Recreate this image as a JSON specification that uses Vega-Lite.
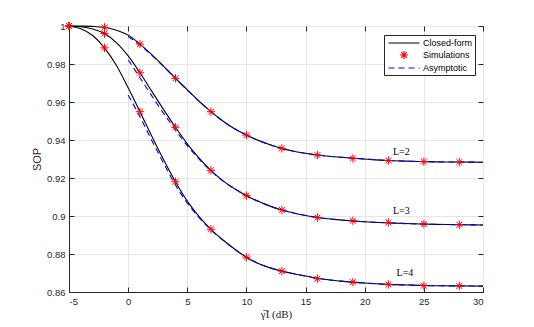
{
  "$schema": "https://vega.github.io/schema/vega-lite/v6.json",
  "width": 414,
  "height": 266,
  "autosize": {"type": "none"},
  "padding": {"left": 69, "top": 26, "right": 51, "bottom": 35},
  "background": "white",
  "datasets": {
    "cf": [
      {"x": -5, "y": 1.0, "L": 2}, {"x": -4, "y": 0.99995, "L": 2}, {"x": -3, "y": 0.9998, "L": 2}, {"x": -2, "y": 0.9993, "L": 2}, {"x": -1, "y": 0.9978, "L": 2}, {"x": 0, "y": 0.9952, "L": 2}, {"x": 1, "y": 0.9905, "L": 2}, {"x": 2, "y": 0.9849, "L": 2}, {"x": 3, "y": 0.9788, "L": 2}, {"x": 4, "y": 0.9725, "L": 2}, {"x": 5, "y": 0.9664, "L": 2}, {"x": 6, "y": 0.9604, "L": 2}, {"x": 7, "y": 0.9549, "L": 2}, {"x": 8, "y": 0.95, "L": 2}, {"x": 9, "y": 0.9459, "L": 2}, {"x": 10, "y": 0.9426, "L": 2}, {"x": 11, "y": 0.9398, "L": 2}, {"x": 12, "y": 0.9375, "L": 2}, {"x": 13, "y": 0.9356, "L": 2}, {"x": 14, "y": 0.9341, "L": 2}, {"x": 15, "y": 0.933, "L": 2}, {"x": 16, "y": 0.9321, "L": 2}, {"x": 18, "y": 0.9309, "L": 2}, {"x": 20, "y": 0.93, "L": 2}, {"x": 22, "y": 0.9292, "L": 2}, {"x": 24, "y": 0.9288, "L": 2}, {"x": 26, "y": 0.9285, "L": 2}, {"x": 28, "y": 0.9284, "L": 2}, {"x": 30, "y": 0.9283, "L": 2},
      {"x": -5, "y": 1.0, "L": 3}, {"x": -4, "y": 0.9996, "L": 3}, {"x": -3, "y": 0.9984, "L": 3}, {"x": -2, "y": 0.996, "L": 3}, {"x": -1, "y": 0.9913, "L": 3}, {"x": 0, "y": 0.9843, "L": 3}, {"x": 1, "y": 0.9754, "L": 3}, {"x": 2, "y": 0.9656, "L": 3}, {"x": 3, "y": 0.956, "L": 3}, {"x": 4, "y": 0.9467, "L": 3}, {"x": 5, "y": 0.938, "L": 3}, {"x": 6, "y": 0.9305, "L": 3}, {"x": 7, "y": 0.924, "L": 3}, {"x": 8, "y": 0.9186, "L": 3}, {"x": 9, "y": 0.9143, "L": 3}, {"x": 10, "y": 0.9107, "L": 3}, {"x": 11, "y": 0.9077, "L": 3}, {"x": 12, "y": 0.9052, "L": 3}, {"x": 13, "y": 0.9032, "L": 3}, {"x": 14, "y": 0.9016, "L": 3}, {"x": 15, "y": 0.9003, "L": 3}, {"x": 16, "y": 0.8992, "L": 3}, {"x": 18, "y": 0.8979, "L": 3}, {"x": 20, "y": 0.897, "L": 3}, {"x": 22, "y": 0.8964, "L": 3}, {"x": 24, "y": 0.8959, "L": 3}, {"x": 26, "y": 0.8956, "L": 3}, {"x": 28, "y": 0.8954, "L": 3}, {"x": 30, "y": 0.8953, "L": 3},
      {"x": -5, "y": 1.0, "L": 4}, {"x": -4, "y": 0.9985, "L": 4}, {"x": -3, "y": 0.995, "L": 4}, {"x": -2, "y": 0.9885, "L": 4}, {"x": -1, "y": 0.9793, "L": 4}, {"x": 0, "y": 0.9675, "L": 4}, {"x": 1, "y": 0.9549, "L": 4}, {"x": 2, "y": 0.942, "L": 4}, {"x": 3, "y": 0.9296, "L": 4}, {"x": 4, "y": 0.918, "L": 4}, {"x": 5, "y": 0.9078, "L": 4}, {"x": 6, "y": 0.8997, "L": 4}, {"x": 7, "y": 0.893, "L": 4}, {"x": 8, "y": 0.8875, "L": 4}, {"x": 9, "y": 0.8826, "L": 4}, {"x": 10, "y": 0.8783, "L": 4}, {"x": 11, "y": 0.875, "L": 4}, {"x": 12, "y": 0.8727, "L": 4}, {"x": 13, "y": 0.871, "L": 4}, {"x": 14, "y": 0.8696, "L": 4}, {"x": 15, "y": 0.8684, "L": 4}, {"x": 16, "y": 0.8672, "L": 4}, {"x": 18, "y": 0.8657, "L": 4}, {"x": 20, "y": 0.8647, "L": 4}, {"x": 22, "y": 0.864, "L": 4}, {"x": 24, "y": 0.8636, "L": 4}, {"x": 26, "y": 0.8633, "L": 4}, {"x": 28, "y": 0.8632, "L": 4}, {"x": 30, "y": 0.8631, "L": 4}
    ],
    "asy": [
      {"x": 0, "y": 0.9945, "L": 2}, {"x": 1, "y": 0.99, "L": 2}, {"x": 2, "y": 0.9846, "L": 2}, {"x": 3, "y": 0.9786, "L": 2}, {"x": 4, "y": 0.9724, "L": 2}, {"x": 5, "y": 0.9663, "L": 2}, {"x": 6, "y": 0.9604, "L": 2}, {"x": 7, "y": 0.9549, "L": 2}, {"x": 8, "y": 0.95, "L": 2}, {"x": 9, "y": 0.9459, "L": 2}, {"x": 10, "y": 0.9426, "L": 2}, {"x": 11, "y": 0.9398, "L": 2}, {"x": 12, "y": 0.9375, "L": 2}, {"x": 13, "y": 0.9356, "L": 2}, {"x": 14, "y": 0.9341, "L": 2}, {"x": 15, "y": 0.933, "L": 2}, {"x": 16, "y": 0.9321, "L": 2}, {"x": 18, "y": 0.9309, "L": 2}, {"x": 20, "y": 0.93, "L": 2}, {"x": 22, "y": 0.9292, "L": 2}, {"x": 24, "y": 0.9288, "L": 2}, {"x": 26, "y": 0.9285, "L": 2}, {"x": 28, "y": 0.9284, "L": 2}, {"x": 30, "y": 0.9283, "L": 2},
      {"x": 0, "y": 0.9822, "L": 3}, {"x": 1, "y": 0.9728, "L": 3}, {"x": 2, "y": 0.9632, "L": 3}, {"x": 3, "y": 0.954, "L": 3}, {"x": 4, "y": 0.9453, "L": 3}, {"x": 5, "y": 0.937, "L": 3}, {"x": 6, "y": 0.9299, "L": 3}, {"x": 7, "y": 0.9237, "L": 3}, {"x": 8, "y": 0.9185, "L": 3}, {"x": 9, "y": 0.9143, "L": 3}, {"x": 10, "y": 0.9107, "L": 3}, {"x": 11, "y": 0.9077, "L": 3}, {"x": 12, "y": 0.9052, "L": 3}, {"x": 13, "y": 0.9032, "L": 3}, {"x": 14, "y": 0.9016, "L": 3}, {"x": 15, "y": 0.9003, "L": 3}, {"x": 16, "y": 0.8992, "L": 3}, {"x": 18, "y": 0.8979, "L": 3}, {"x": 20, "y": 0.897, "L": 3}, {"x": 22, "y": 0.8964, "L": 3}, {"x": 24, "y": 0.8959, "L": 3}, {"x": 26, "y": 0.8956, "L": 3}, {"x": 28, "y": 0.8954, "L": 3}, {"x": 30, "y": 0.8953, "L": 3},
      {"x": 0, "y": 0.9637, "L": 4}, {"x": 1, "y": 0.9522, "L": 4}, {"x": 2, "y": 0.9398, "L": 4}, {"x": 3, "y": 0.9278, "L": 4}, {"x": 4, "y": 0.9163, "L": 4}, {"x": 5, "y": 0.9068, "L": 4}, {"x": 6, "y": 0.8991, "L": 4}, {"x": 7, "y": 0.8927, "L": 4}, {"x": 8, "y": 0.8873, "L": 4}, {"x": 9, "y": 0.8825, "L": 4}, {"x": 10, "y": 0.8783, "L": 4}, {"x": 11, "y": 0.875, "L": 4}, {"x": 12, "y": 0.8727, "L": 4}, {"x": 13, "y": 0.871, "L": 4}, {"x": 14, "y": 0.8696, "L": 4}, {"x": 15, "y": 0.8684, "L": 4}, {"x": 16, "y": 0.8672, "L": 4}, {"x": 18, "y": 0.8657, "L": 4}, {"x": 20, "y": 0.8647, "L": 4}, {"x": 22, "y": 0.864, "L": 4}, {"x": 24, "y": 0.8636, "L": 4}, {"x": 26, "y": 0.8633, "L": 4}, {"x": 28, "y": 0.8632, "L": 4}, {"x": 30, "y": 0.8631, "L": 4}
    ],
    "sim": [
      {"x": -5, "y": 1.0, "L": 2}, {"x": -2, "y": 0.9993, "L": 2}, {"x": 1, "y": 0.9905, "L": 2}, {"x": 4, "y": 0.9725, "L": 2}, {"x": 7, "y": 0.9549, "L": 2}, {"x": 10, "y": 0.9426, "L": 2}, {"x": 13, "y": 0.9356, "L": 2}, {"x": 16, "y": 0.9321, "L": 2}, {"x": 19, "y": 0.9303, "L": 2}, {"x": 22, "y": 0.9292, "L": 2}, {"x": 25, "y": 0.9286, "L": 2}, {"x": 28, "y": 0.9284, "L": 2},
      {"x": -5, "y": 1.0, "L": 3}, {"x": -2, "y": 0.996, "L": 3}, {"x": 1, "y": 0.9754, "L": 3}, {"x": 4, "y": 0.9467, "L": 3}, {"x": 7, "y": 0.924, "L": 3}, {"x": 10, "y": 0.9107, "L": 3}, {"x": 13, "y": 0.9032, "L": 3}, {"x": 16, "y": 0.8992, "L": 3}, {"x": 19, "y": 0.8975, "L": 3}, {"x": 22, "y": 0.8966, "L": 3}, {"x": 25, "y": 0.8958, "L": 3}, {"x": 28, "y": 0.8954, "L": 3},
      {"x": -5, "y": 1.0, "L": 4}, {"x": -2, "y": 0.9885, "L": 4}, {"x": 1, "y": 0.9549, "L": 4}, {"x": 4, "y": 0.918, "L": 4}, {"x": 7, "y": 0.893, "L": 4}, {"x": 10, "y": 0.8783, "L": 4}, {"x": 13, "y": 0.871, "L": 4}, {"x": 16, "y": 0.867, "L": 4}, {"x": 19, "y": 0.8652, "L": 4}, {"x": 22, "y": 0.864, "L": 4}, {"x": 25, "y": 0.8633, "L": 4}, {"x": 28, "y": 0.8632, "L": 4}
    ],
    "lbl": [
      {"x": 23.1, "y": 0.9337, "text": "L=2"},
      {"x": 23.1, "y": 0.9026, "text": "L=3"},
      {"x": 23.4, "y": 0.8700, "text": "L=4"}
    ]
  },
  "layer": [
    {
      "data": {"name": "cf"},
      "transform": [{"calculate": "'Closed-form'", "as": "series"}],
      "mark": {"type": "line", "strokeWidth": 1.1, "interpolate": "monotone"},
      "encoding": {
        "x": {"field": "x", "type": "quantitative", "scale": {"domain": [-5, 30], "nice": false},
          "axis": {"title": "γ̅I (dB)", "titleFont": "Liberation Serif", "titleFontSize": 11, "titleFontWeight": "normal", "titlePadding": 3, "values": [-5, 0, 5, 10, 15, 20, 25, 30], "labelExpr": "'' + datum.value", "grid": true}},
        "y": {"field": "y", "type": "quantitative", "scale": {"domain": [0.86, 1], "nice": false, "zero": false},
          "axis": {"title": "SOP", "titleFont": "Liberation Sans", "titleFontSize": 11, "titleFontWeight": "normal", "titlePadding": 4, "values": [0.86, 0.88, 0.9, 0.92, 0.94, 0.96, 0.98, 1], "format": "~g", "grid": true}},
        "detail": {"field": "L"},
        "color": {"field": "series", "type": "nominal",
          "scale": {"domain": ["Closed-form", "Simulations", "Asymptotic"], "range": ["#000000", "#ff0000", "#0000ff"]},
          "legend": {"title": null,
            "encode": {"symbols": {"update": {
              "shape": {"signal": "datum.value === 'Simulations' ? 'M0,-0.8V0.8M-0.8,0H0.8M-0.57,-0.57L0.57,0.57M-0.57,0.57L0.57,-0.57' : 'M-3.1,0H3.1'"},
              "strokeDash": {"signal": "datum.value === 'Asymptotic' ? [6,4] : [1,0]"},
              "strokeWidth": {"value": 1.2},
              "fill": {"value": "transparent"},
              "opacity": {"value": 1}
            }}}}}
      }
    },
    {
      "data": {"name": "asy"},
      "transform": [{"calculate": "'Asymptotic'", "as": "series"}],
      "mark": {"type": "line", "strokeWidth": 1.1, "strokeDash": [6, 4], "interpolate": "monotone"},
      "encoding": {
        "x": {"field": "x", "type": "quantitative", "axis": null},
        "y": {"field": "y", "type": "quantitative", "axis": null},
        "detail": {"field": "L"},
        "color": {"field": "series", "type": "nominal"}
      }
    },
    {
      "data": {"name": "sim"},
      "transform": [{"calculate": "'Simulations'", "as": "series"}],
      "mark": {"type": "point", "shape": "M0,-1V1M-1,0H1M-0.7,-0.7L0.7,0.7M-0.7,0.7L0.7,-0.7", "size": 70, "filled": false, "strokeWidth": 1, "opacity": 1},
      "encoding": {
        "x": {"field": "x", "type": "quantitative", "axis": null},
        "y": {"field": "y", "type": "quantitative", "axis": null},
        "color": {"field": "series", "type": "nominal"}
      }
    },
    {
      "data": {"name": "lbl"},
      "mark": {"type": "text", "font": "Liberation Serif", "fontSize": 10, "color": "#000000", "align": "center", "baseline": "middle"},
      "encoding": {
        "x": {"field": "x", "type": "quantitative", "axis": null},
        "y": {"field": "y", "type": "quantitative", "axis": null},
        "text": {"field": "text"}
      }
    },
    {
      "data": {"name": "cf"},
      "mark": {"type": "line", "opacity": 0},
      "encoding": {
        "x": {"field": "x", "type": "quantitative", "axis": {"orient": "top", "labels": false, "grid": false, "title": null, "domain": false, "values": [-5, 0, 5, 10, 15, 20, 25, 30]}},
        "y": {"field": "y", "type": "quantitative", "axis": {"orient": "right", "labels": false, "grid": false, "title": null, "domain": false, "values": [0.86, 0.88, 0.9, 0.92, 0.94, 0.96, 0.98, 1]}},
        "detail": {"field": "L"}
      }
    }
  ],
  "resolve": {"axis": {"x": "independent", "y": "independent"}},
  "config": {
    "view": {"stroke": "#262626", "strokeWidth": 1},
    "axis": {
      "domainColor": "#262626", "tickColor": "#262626", "labelColor": "#262626", "titleColor": "#262626",
      "labelFont": "Liberation Sans", "labelFontSize": 9.5, "tickSize": -5, "labelPadding": 9,
      "gridColor": "#e6e6e6", "gridWidth": 1
    },
    "legend": {
      "orient": "none", "legendX": 315, "legendY": 9, "direction": "vertical",
      "strokeColor": "#262626", "fillColor": "white", "padding": 2,
      "labelFont": "Liberation Sans", "labelFontSize": 9, "labelColor": "#000000",
      "symbolSize": 100, "symbolOffset": 12, "labelOffset": 13, "rowPadding": 0
    }
  }
}
